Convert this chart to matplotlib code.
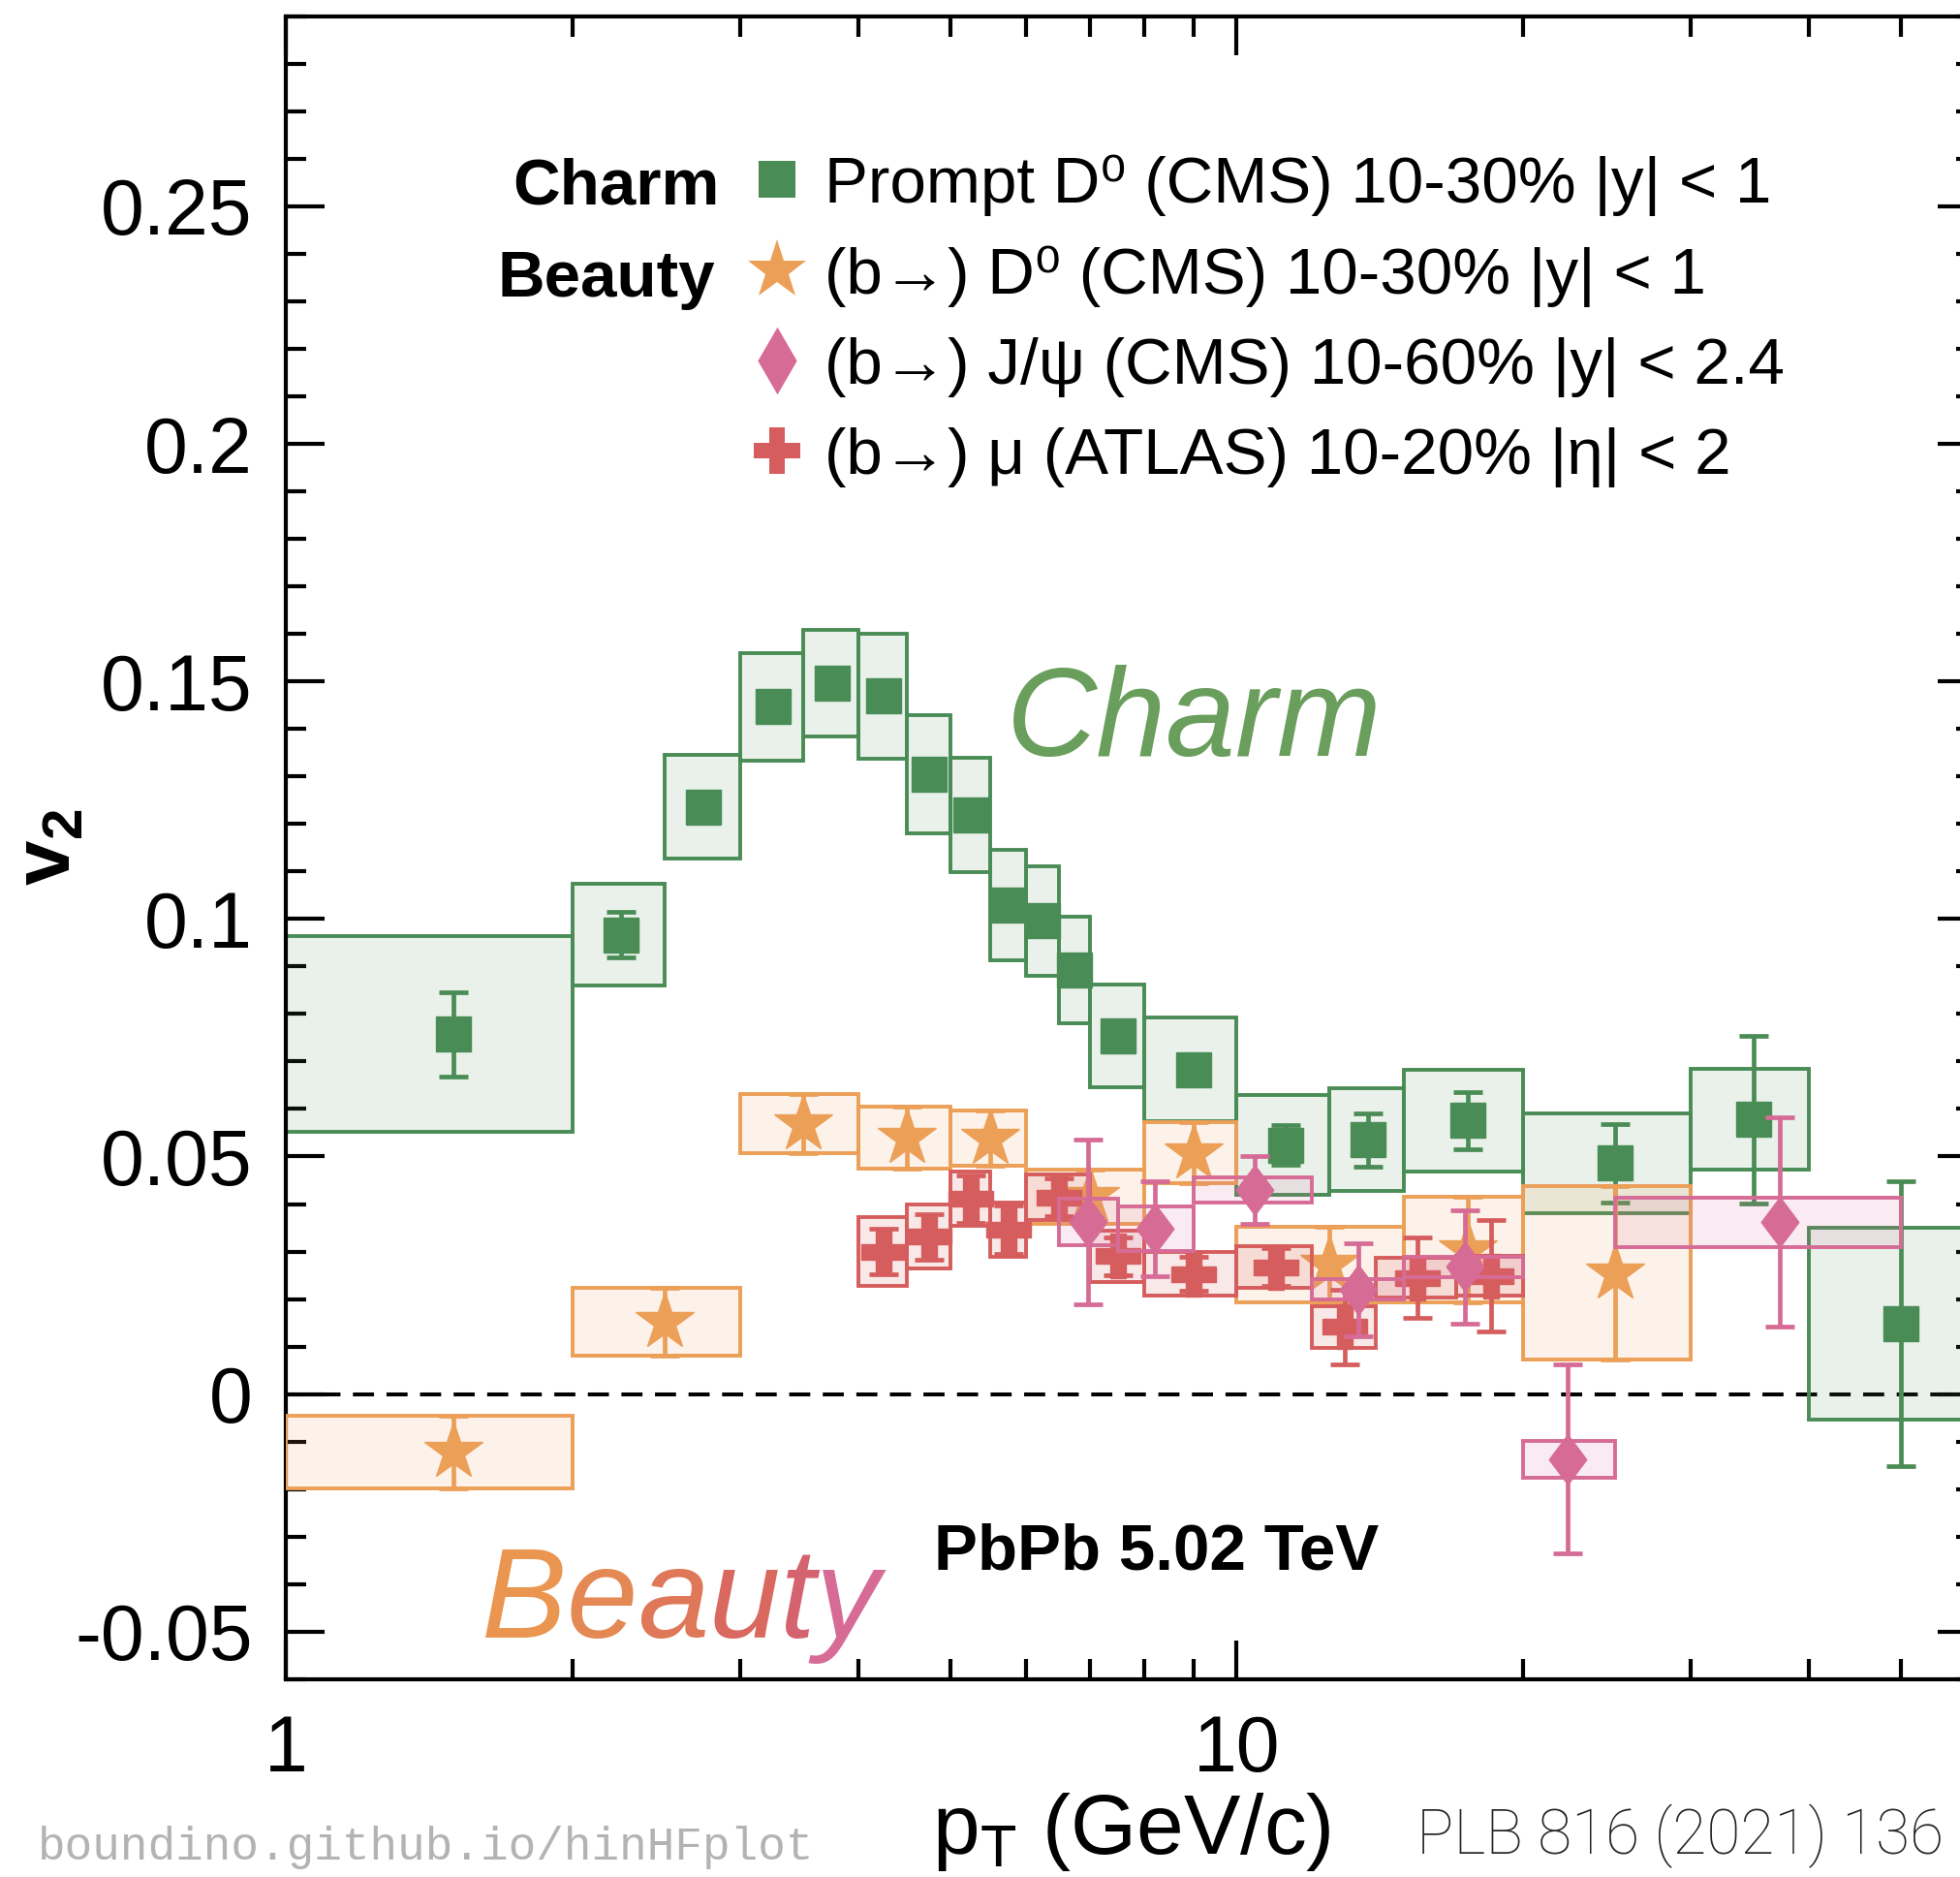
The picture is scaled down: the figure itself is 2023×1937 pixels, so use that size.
#%%
import numpy as np
import matplotlib
matplotlib.use("Agg")
import matplotlib.pyplot as plt
import matplotlib.transforms as mtransforms
from matplotlib.patches import Rectangle
from matplotlib.lines import Line2D
from matplotlib.path import Path
from matplotlib.colors import to_rgba
from matplotlib.ticker import MultipleLocator, LogLocator, FixedLocator, FuncFormatter, NullFormatter

plt.rcParams['font.family'] = ['Liberation Sans', 'DejaVu Sans']
plt.rcParams['mathtext.fontset'] = 'custom'
plt.rcParams['mathtext.rm'] = 'Liberation Sans'
plt.rcParams['mathtext.it'] = 'Liberation Sans:italic'
plt.rcParams['mathtext.bf'] = 'Liberation Sans:bold'
plt.rcParams['mathtext.default'] = 'regular'
plt.rcParams['axes.unicode_minus'] = False

#%% data
# prompt D0, CMS 10-30%
d0_lo = [1, 2, 2.5, 3, 3.5, 4, 4.5, 5, 5.5, 6, 6.5, 7, 8, 10, 12.5, 15, 20, 30, 40]
d0_hi = [2, 2.5, 3, 3.5, 4, 4.5, 5, 5.5, 6, 6.5, 7, 8, 10, 12.5, 15, 20, 30, 40, 60]
d0_pt = [1.5, 2.25, 2.75, 3.25, 3.75, 4.25, 4.75, 5.25, 5.75, 6.25, 6.75, 7.5, 9, 11.25, 13.75, 17.5, 25, 35, 50]
d0_v2 = [0.0757, 0.0967, 0.1236, 0.1447, 0.1496, 0.1469, 0.1305, 0.1219, 0.1029, 0.0996,
         0.0893, 0.0754, 0.0683, 0.0524, 0.0535, 0.0576, 0.0486, 0.0578, 0.0148]
d0_stat = [0.0089, 0.0048, 0.003, 0.003, 0.003, 0.003, 0.003, 0.003, 0.003, 0.003,
           0.003, 0.003, 0.003, 0.0042, 0.0056, 0.006, 0.0082, 0.0176, 0.030]
d0_syst = [0.0206, 0.0107, 0.0109, 0.0113, 0.0112, 0.0131, 0.0124, 0.0121, 0.0116, 0.0115,
           0.0112, 0.0109, 0.0109, 0.0105, 0.0108, 0.0107, 0.0105, 0.0106, 0.0202]

# b -> D0, CMS 10-30%
bd0_lo = [1, 2, 3, 4, 5, 6, 8, 10, 15, 20]
bd0_hi = [2, 3, 4, 5, 6, 8, 10, 15, 20, 30]
bd0_pt = [1.5, 2.5, 3.5, 4.5, 5.5, 7, 9, 12.5, 17.5, 25]
bd0_v2 = [-0.0122, 0.0152, 0.0569, 0.0540, 0.0538, 0.0416, 0.0508, 0.0273, 0.0304, 0.0255]
bd0_stat = [0.0077, 0.0071, 0.0062, 0.0065, 0.0058, 0.0057, 0.0064, 0.0080, 0.0111, 0.0182]
bd0_syst = [0.0077, 0.0071, 0.0062, 0.0065, 0.0058, 0.0057, 0.0064, 0.0080, 0.0111, 0.0182]

# b -> J/psi, CMS 10-60%
jpsi_lo = [6.5, 7.5, 9, 12, 15, 20, 25]
jpsi_hi = [7.5, 9, 12, 15, 20, 25, 50]
jpsi_pt = [6.97, 8.2, 10.44, 13.44, 17.4, 22.3, 37.3]
jpsi_v2 = [0.0362, 0.0348, 0.0430, 0.0220, 0.0268, -0.0137, 0.0362]
jpsi_stat = [0.0173, 0.0100, 0.0072, 0.0098, 0.0119, 0.0199, 0.0220]
jpsi_syst = [0.0049, 0.0046, 0.0026, 0.0021, 0.0021, 0.0039, 0.0052]

# b -> mu, ATLAS 10-20%
mu_lo = [4, 4.5, 5, 5.5, 6, 7, 8, 10, 12, 14, 17]
mu_hi = [4.5, 5, 5.5, 6, 7, 8, 10, 12, 14, 17, 20]
mu_pt = [4.25, 4.75, 5.25, 5.75, 6.5, 7.5, 9, 11, 13, 15.5, 18.5]
mu_v2 = [0.0300, 0.0331, 0.0411, 0.0346, 0.0414, 0.0290, 0.0253, 0.0267, 0.0141, 0.0245, 0.0249]
mu_stat = [0.0048, 0.0048, 0.0050, 0.0050, 0.0040, 0.0040, 0.0035, 0.0040, 0.0078, 0.0085, 0.0118]
mu_syst = [0.0072, 0.0067, 0.0057, 0.0057, 0.0048, 0.0054, 0.0046, 0.0044, 0.0044, 0.0041, 0.0041]

legend_labels = ['Prompt D⁰ (CMS) 10-30% |y| < 1',
                 '(b→) D⁰ (CMS) 10-30% |y| < 1',
                 '(b→) J/ψ (CMS) 10-60% |y| < 2.4',
                 '(b→) μ (ATLAS) 10-20% |η| < 2']

beauty_letters = ['B', 'e', 'a', 'u', 't', 'y']
beauty_colors = ['#ea9650', '#e48954', '#df7858', '#d9685f', '#d5626f', '#d66c96']

green = '#4a8c55'
orange = '#ec9f57'
red = '#d65d5d'
pink = '#d66b96'

diamond = Path([(0, 1), (0.75, 0), (0, -1), (-0.75, 0), (0, 1)],
               [Path.MOVETO, Path.LINETO, Path.LINETO, Path.LINETO, Path.CLOSEPOLY])
diamond_leg = Path([(0, 1), (0.58, 0), (0, -1), (-0.58, 0), (0, 1)],
                   [Path.MOVETO, Path.LINETO, Path.LINETO, Path.LINETO, Path.CLOSEPOLY])

#%% figure
fig = plt.figure(figsize=(20.23, 19.37), dpi=100)
ax = fig.add_axes([0.14607, 0.10542, 0.86226, 0.88591])
ax.set_xscale('log')
ax.set_xlim(1, 60)
ax.set_ylim(-0.06, 0.29)

ax.axhline(0, color='k', lw=2.9, ls=(0, (5.4, 3.2)), zorder=1)


def draw_set(lo, hi, pt, v2, stat, syst, color, marker, ms, z, alpha=0.12):
    for l, h, v, s in zip(lo, hi, v2, syst):
        ax.add_patch(Rectangle((l, v - s), h - l, 2 * s, facecolor=to_rgba(color, alpha),
                               edgecolor=color, lw=2.8, zorder=z))
    ax.errorbar(pt, v2, yerr=stat, marker=marker, ms=ms, ls='none', color=color, mec=color,
                elinewidth=3.4, capsize=10.5, capthick=3.4, zorder=z + 0.5)


draw_set(d0_lo, d0_hi, d0_pt, d0_v2, d0_stat, d0_syst, green, 's', 26.5, 2)
draw_set(bd0_lo, bd0_hi, bd0_pt, bd0_v2, bd0_stat, bd0_syst, orange, '*', 45, 4, 0.13)
draw_set(mu_lo, mu_hi, mu_pt, mu_v2, mu_stat, mu_syst, red, 'P', 33, 6, 0.14)
draw_set(jpsi_lo, jpsi_hi, jpsi_pt, jpsi_v2, jpsi_stat, jpsi_syst, pink, diamond, 37, 8, 0.13)

# axes style
for sp in ax.spines.values():
    sp.set_linewidth(3)
ax.xaxis.set_major_locator(FixedLocator([1, 10]))
ax.xaxis.set_major_formatter(FuncFormatter(lambda v, p: '%g' % v))
ax.xaxis.set_minor_locator(LogLocator(base=10, subs=np.arange(2, 10)))
ax.xaxis.set_minor_formatter(NullFormatter())
ax.yaxis.set_major_locator(MultipleLocator(0.05))
ax.yaxis.set_minor_locator(MultipleLocator(0.01))
ax.yaxis.set_major_formatter(FuncFormatter(lambda v, p: '%g' % round(v, 3)))
ax.tick_params(which='both', direction='in', top=True, right=True, width=3, labelsize=58)
ax.tick_params(which='major', length=28.8)
ax.tick_params(which='minor', length=15)
ax.tick_params(axis='x', pad=26)
ax.tick_params(axis='y', pad=25)

ax.set_xlabel('p$_{T}$ (GeV/c)', fontsize=63)
ax.xaxis.set_label_coords(0.5, -0.067)
ax.set_ylabel('v$_{2}$', fontsize=60, fontweight='bold')
ax.yaxis.set_label_coords(-0.118, 0.5)

#%% legend
handles = [Line2D([], [], ls='none', marker='s', ms=27.5, color=green, mew=0),
           Line2D([], [], ls='none', marker='*', ms=46, color=orange, mew=0),
           Line2D([], [], ls='none', marker=diamond_leg, ms=50, color=pink, mew=0),
           Line2D([], [], ls='none', marker='P', ms=35, color=red, mew=0)]
leg = ax.legend(handles, legend_labels, loc='upper left', bbox_to_anchor=(0.2789, 0.9171),
                bbox_transform=ax.transAxes, frameon=False, fontsize=48.5, handlelength=0.6,
                handletextpad=0.42, labelspacing=0.46, borderpad=0, borderaxespad=0)

ax.text(0.2565, 0.8874, 'Charm', transform=ax.transAxes, ha='right', va='baseline',
        fontsize=48.5, fontweight='bold')
ax.text(0.2540, 0.8315, 'Beauty', transform=ax.transAxes, ha='right', va='baseline',
        fontsize=48.5, fontweight='bold')
ax.text(0.3832, 0.0663, 'PbPb 5.02 TeV', transform=ax.transAxes, ha='left', va='baseline',
        fontsize=48.5, fontweight='bold')

# hand-written style labels
ax.text(0.4262, 0.5552, 'Charm', transform=ax.transAxes, ha='left', va='baseline',
        fontsize=93, fontstyle='italic', color='#6a9e5c')

fig.canvas.draw()
renderer = fig.canvas.get_renderer()
trans = ax.transAxes
for ch, col in zip(beauty_letters, beauty_colors):
    t = ax.text(0.1155, 0.0249, ch, transform=trans, ha='left', va='baseline', fontsize=95,
                fontstyle='italic', color=col, clip_on=False, zorder=12)
    ex = t.get_window_extent(renderer)
    trans = mtransforms.offset_copy(t.get_transform(), x=ex.width, units='dots')

fig.text(0.0193, 0.0155, 'boundino.github.io/hinHFplot', ha='left', va='center',
         fontsize=34.4, color='#b3b3b3', family=['Liberation Mono', 'DejaVu Sans Mono'])
fig.text(0.7227, 0.0125, 'PLB 816 (2021) 136', ha='left', va='baseline', fontsize=46,
         color='#222222', fontweight=100, family=['Roboto', 'Liberation Sans'])

fig.savefig('out.png', dpi=100)
